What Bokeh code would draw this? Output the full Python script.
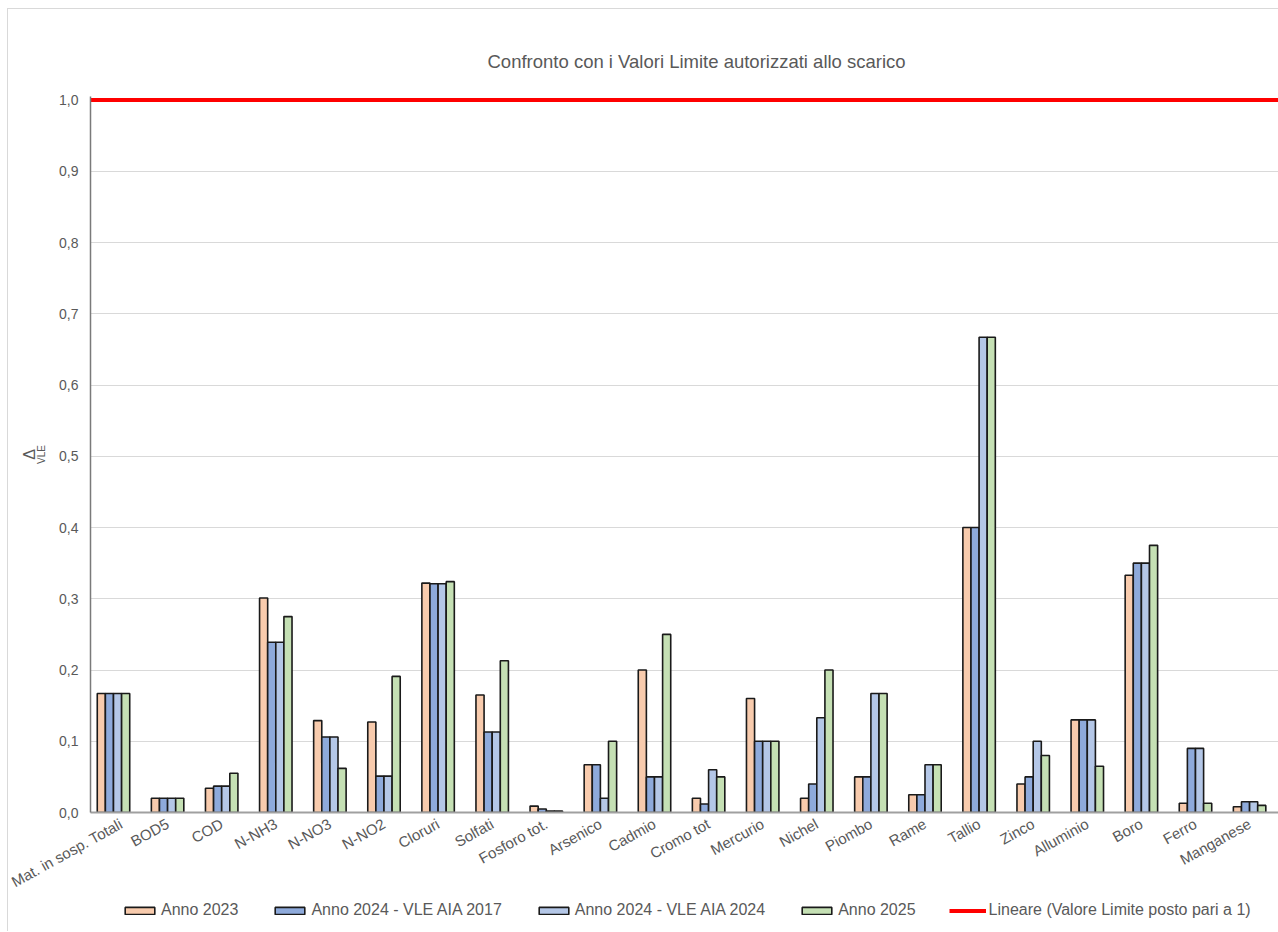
import json
import math
import numpy as np
from bokeh.plotting import figure
from bokeh.layouts import column
from bokeh.models import (Range1d, FixedTicker, CustomJSTickFormatter, Legend,
                          LegendItem, LinearAxis)
from bokeh.embed import file_html
from bokeh.resources import INLINE

# ---------------- data ----------------
categories = ["Mat. in sosp. Totali", "BOD5", "COD", "N-NH3", "N-NO3", "N-NO2",
              "Cloruri", "Solfati", "Fosforo tot.", "Arsenico", "Cadmio",
              "Cromo tot", "Mercurio", "Nichel", "Piombo", "Rame", "Tallio",
              "Zinco", "Alluminio", "Boro", "Ferro", "Manganese"]

anno_2023 = [0.167, 0.020, 0.034, 0.301, 0.129, 0.127, 0.322, 0.165, 0.009,
             0.067, 0.200, 0.020, 0.160, 0.020, 0.050, 0.025, 0.400, 0.040,
             0.130, 0.333, 0.013, 0.008]
anno_2024_aia2017 = [0.167, 0.020, 0.037, 0.239, 0.106, 0.051, 0.321, 0.113,
                     0.005, 0.067, 0.050, 0.012, 0.100, 0.040, 0.050, 0.025,
                     0.400, 0.050, 0.130, 0.350, 0.090, 0.015]
anno_2024_aia2024 = [0.167, 0.020, 0.037, 0.239, 0.106, 0.051, 0.321, 0.113,
                     0.002, 0.020, 0.050, 0.060, 0.100, 0.133, 0.167, 0.067,
                     0.667, 0.100, 0.130, 0.350, 0.090, 0.015]
anno_2025 = [0.167, 0.020, 0.055, 0.275, 0.062, 0.191, 0.324, 0.213, 0.002,
             0.100, 0.250, 0.050, 0.100, 0.200, 0.167, 0.067, 0.667, 0.080,
             0.065, 0.375, 0.013, 0.010]
valore_limite = 1.0

series_names = ["Anno 2023", "Anno 2024 - VLE AIA 2017",
                "Anno 2024 - VLE AIA 2024", "Anno 2025"]
series_values = [anno_2023, anno_2024_aia2017, anno_2024_aia2024, anno_2025]
series_colors = ["#f8cbad", "#8eaadb", "#b4c7e7", "#c5e0b4"]
limit_name = "Lineare (Valore Limite posto pari a 1)"
y_ticks = [0.0, 0.1, 0.2, 0.3, 0.4, 0.5, 0.6, 0.7, 0.8, 0.9, 1.0]

# ---------------- layout ----------------
FONT = "Liberation Sans"
GRAY = "#595959"
W, H = 1270, 893
BL, BR, BT, BB = 82, 0, 87, 90
H2 = 29
frame_w = W - BL - BR
unit_px = 54.1
x_start = -0.425
x_end = x_start + frame_w / unit_px
bar_w = 0.15
BAR_LINE = "#1a1a1a"
idx = np.arange(len(categories))

p = figure(width=W, height=H, output_backend="svg", toolbar_location=None,
           x_range=Range1d(x_start, x_end), y_range=Range1d(0, 1.005),
           min_border_left=BL, min_border_right=BR, min_border_top=BT,
           min_border_bottom=BB)
p.outline_line_color = None
p.background_fill_color = "white"
p.border_fill_color = "white"

p.title.text = "Confronto con i Valori Limite autorizzati allo scarico"
p.title.align = "left"
p.title.offset = 397
p.title.standoff = 50
p.title.text_font = FONT
p.title.text_font_size = "18.5px"
p.title.text_font_style = "normal"
p.title.text_color = GRAY

for k, (vals, col) in enumerate(zip(series_values, series_colors)):
    p.vbar(x=idx + (k - 1.5) * bar_w, top=vals, bottom=0, width=bar_w,
           fill_color=col, line_color=BAR_LINE, line_width=1.6)

p.line(x=[x_start, x_end], y=[valore_limite, valore_limite],
       line_color="#ff0000", line_width=4)

# axes
p.xgrid.grid_line_color = None
p.ygrid.grid_line_color = "#d9d9d9"
p.ygrid.grid_line_width = 1

p.yaxis.ticker = FixedTicker(ticks=y_ticks)
p.yaxis.formatter = CustomJSTickFormatter(code="return tick.toFixed(1).replace('.', ',');")
p.yaxis.axis_line_color = "#7a7a7a"
p.yaxis.axis_line_width = 1.5
p.yaxis.major_tick_line_color = None
p.yaxis.minor_tick_line_color = None
p.yaxis.major_tick_out = 0
p.yaxis.minor_tick_out = 0
p.yaxis.major_label_text_font = FONT
p.yaxis.major_label_text_font_size = "14px"
p.yaxis.major_label_text_color = GRAY
p.yaxis.major_label_standoff = 12
# subscript part of the axis title (closest to the axis)
p.yaxis.axis_label = "VLE"
p.yaxis.axis_label_standoff = 9
p.yaxis.axis_label_text_font = FONT
p.yaxis.axis_label_text_font_size = "10px"
p.yaxis.axis_label_text_font_style = "normal"
p.yaxis.axis_label_text_color = GRAY

# main symbol of the axis title on an extra, tick-less axis further out
delta_axis = LinearAxis(ticker=FixedTicker(ticks=[]), axis_line_color=None,
                        major_tick_out=0, minor_tick_out=0,
                        major_tick_line_color=None, minor_tick_line_color=None,
                        major_label_standoff=0, axis_label="Δ",
                        axis_label_standoff=-4, axis_label_text_font=FONT,
                        axis_label_text_font_size="16px",
                        axis_label_text_font_style="normal",
                        axis_label_text_color=GRAY)
p.add_layout(delta_axis, "left")

p.xaxis.ticker = FixedTicker(ticks=list(range(len(categories))))
p.xaxis.formatter = CustomJSTickFormatter(
    code="const names = %s; return names[Math.round(tick)];" % json.dumps(categories))
p.xaxis.axis_line_color = "#a0a0a0"
p.xaxis.axis_line_width = 2
p.xaxis.major_tick_line_color = None
p.xaxis.minor_tick_line_color = None
p.xaxis.major_tick_out = 0
p.xaxis.minor_tick_out = 0
p.xaxis.major_label_orientation = math.radians(29)
p.xaxis.major_label_text_font = FONT
p.xaxis.major_label_text_font_size = "15px"
p.xaxis.major_label_text_color = GRAY
p.xaxis.major_label_standoff = 10

# ---------------- legend strip ----------------
# Legend-only proxies (single NaN point each, so nothing is drawn in the strip).
pl = figure(width=W, height=H2, output_backend="svg", toolbar_location=None,
            x_range=Range1d(0, 1), y_range=Range1d(0, 1),
            x_axis_type=None, y_axis_type=None, min_border=0)
pl.outline_line_color = None
pl.grid.grid_line_color = None
pl.background_fill_color = "white"
pl.border_fill_color = "white"

legend_renderers = []
for col in series_colors:
    legend_renderers.append(pl.vbar(x=[np.nan], top=[np.nan], bottom=0,
                                    width=bar_w, fill_color=col,
                                    line_color=BAR_LINE, line_width=1.6))
legend_renderers.append(pl.line(x=[np.nan], y=[np.nan],
                                line_color="#ff0000", line_width=4))

items = [LegendItem(label=n, renderers=[r])
         for n, r in zip(series_names + [limit_name], legend_renderers)]
legend = Legend(items=items, orientation="horizontal", location=(31, 12),
                glyph_width=37, glyph_height=9, label_standoff=3, spacing=33,
                padding=0, margin=0, label_height=16,
                label_text_font=FONT, label_text_font_size="16px",
                label_text_color=GRAY, border_line_color=None,
                background_fill_alpha=0)
pl.add_layout(legend, "center")

layout = column(p, pl, spacing=0)
layout.styles = {"margin-left": "7px", "margin-top": "8px",
                 "border-left": "1px solid #d9d9d9", "border-top": "1px solid #d9d9d9"}

open("out.html", "w").write(file_html(layout, INLINE))
